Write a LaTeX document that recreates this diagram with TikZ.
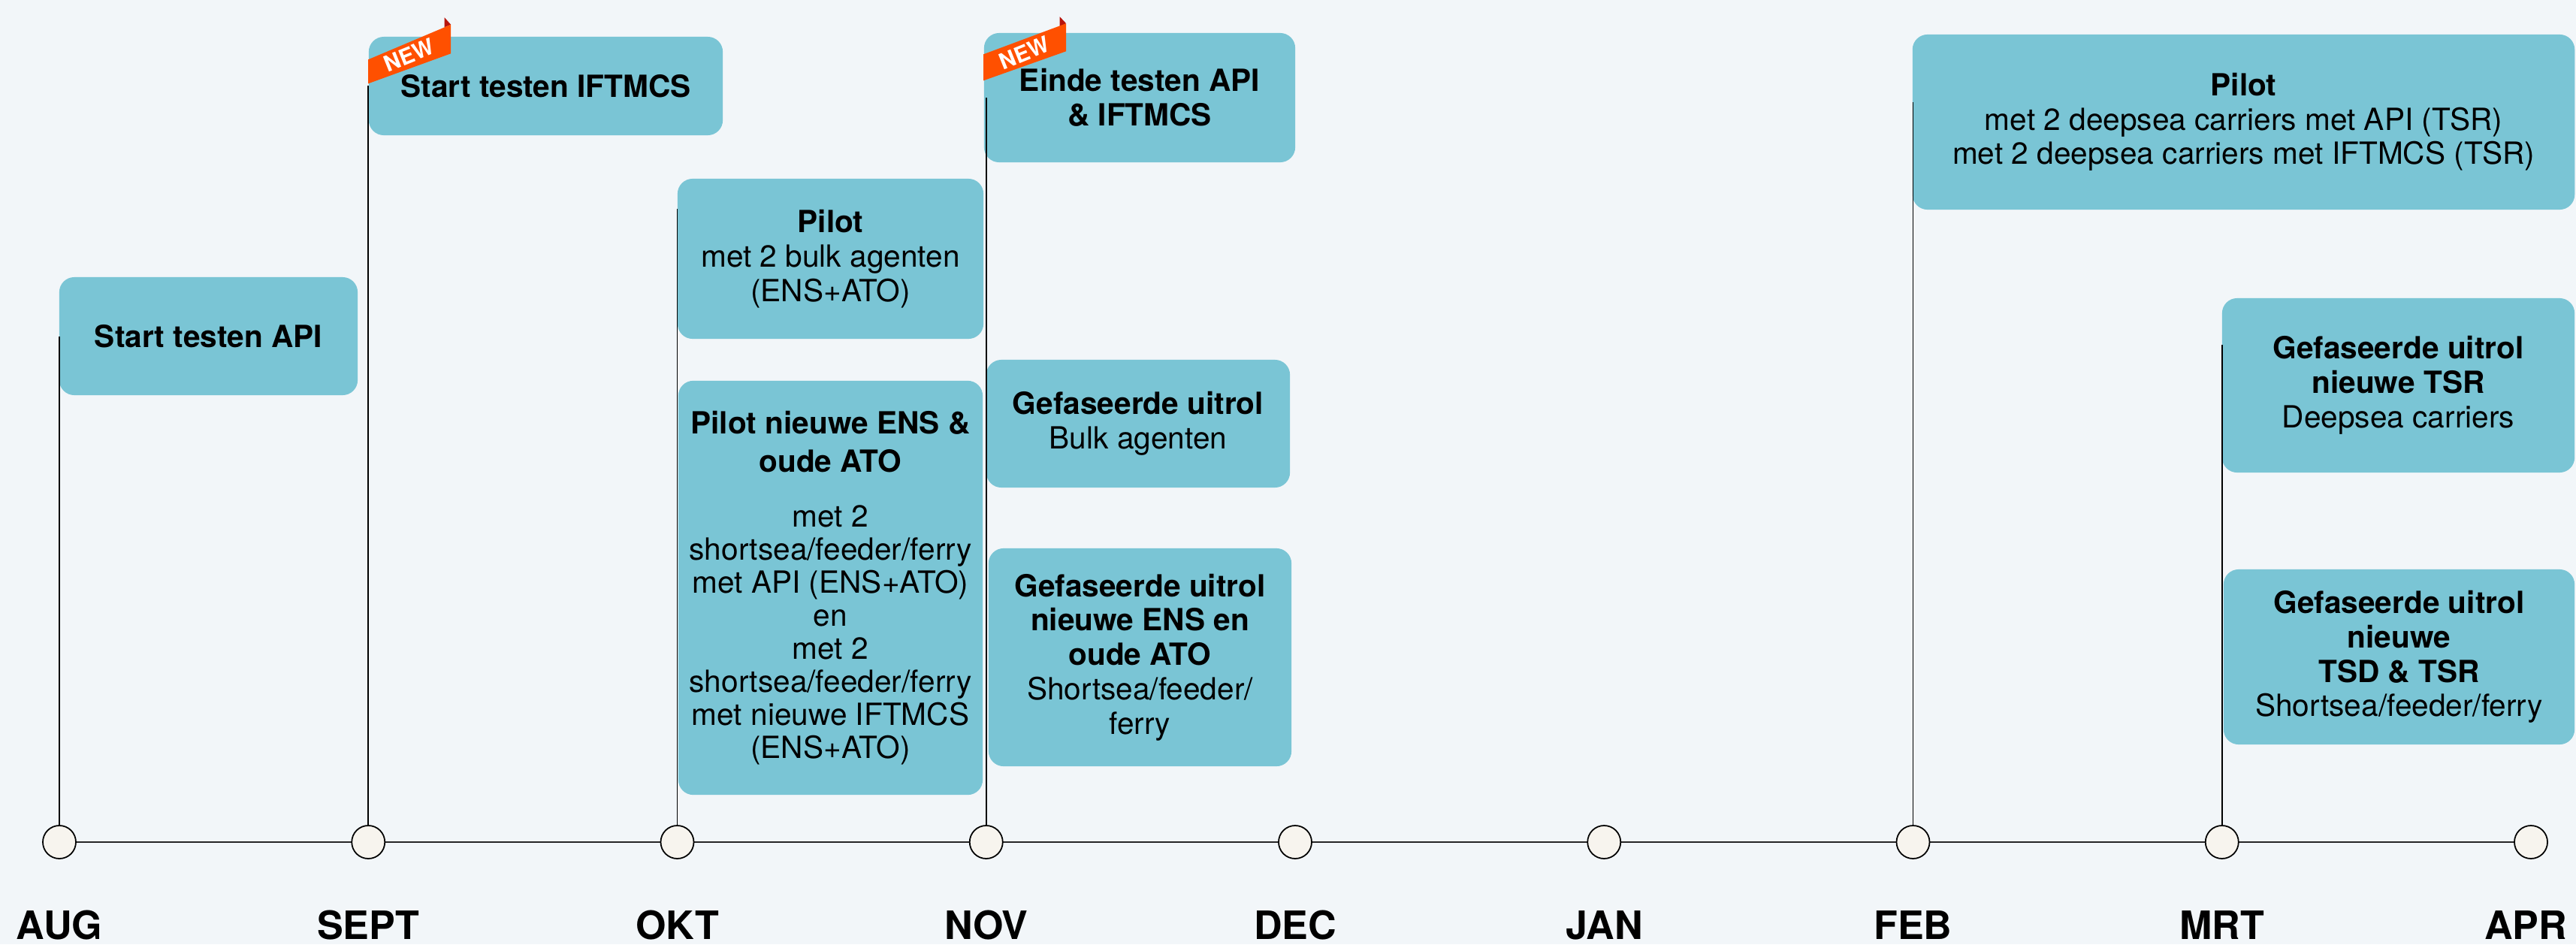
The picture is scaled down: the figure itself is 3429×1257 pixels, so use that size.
\documentclass[tikz,border=0pt]{standalone}
\usepackage{fontspec}
\setmainfont{TeX Gyre Heros}
\usetikzlibrary{calc}
\definecolor{bgc}{HTML}{F2F6F9}
\definecolor{boxc}{HTML}{7AC5D5}
\definecolor{ribc}{HTML}{FF5000}
\definecolor{foldc}{HTML}{B8140C}
\definecolor{dotc}{HTML}{F7F4EE}
\newcommand\evfont{\fontsize{11.55pt}{13pt}\selectfont}
\newcommand\evfonttight{\fontsize{11.55pt}{12.5pt}\selectfont}
\newcommand\mfont{\fontsize{14.8pt}{16pt}\selectfont\bfseries}
\newcommand\ribfont{\fontsize{8.4pt}{9pt}\selectfont\bfseries}
\tikzset{
  evbox/.style={fill=boxc, rounded corners=0.2cm, inner sep=0pt, align=center, font=\evfont},
  monthdot/.style={circle, draw=black, line width=0.5pt, fill=dotc, minimum size=0.44cm, inner sep=0pt},
  stemline/.style={line width=0.45pt, draw=black},
  axisline/.style={line width=0.55pt, draw=black!85},
  monthlbl/.style={font=\mfont, anchor=base, inner sep=0pt},
  ribbon/.style={fill=ribc},
  ribfold/.style={fill=foldc},
  newtext/.style={font=\ribfont, text=white, rotate=22, inner sep=0pt}
}
\begin{document}
\begin{tikzpicture}[x=0.01cm, y=-0.01cm]
\fill[bgc] (0,0) rectangle (3429,1257);
\useasboundingbox (0,0) rectangle (3429,1257);

% month dots (positions)
\path (79,1121) coordinate (paug)
      (490.25,1121) coordinate (psept)
      (901.5,1121) coordinate (pokt)
      (1312.75,1121) coordinate (pnov)
      (1724,1121) coordinate (pdec)
      (2135.25,1121) coordinate (pjan)
      (2546.5,1121) coordinate (pfeb)
      (2957.75,1121) coordinate (pmrt)
      (3369,1121) coordinate (papr);

% axis
\draw[axisline] (paug) -- (papr);

% event boxes
\node[evbox, minimum width=3.97cm, minimum height=1.57cm] (apiBox) at (277.5,447.5) {\textbf{Start testen API}};
\node[evbox, minimum width=4.71cm, minimum height=1.31cm] (iftBox) at (726.5,114.5) {\textbf{Start testen IFTMCS}};
\node[evbox, minimum width=4.07cm, minimum height=2.13cm] (pilotBulk) at (1105.5,344.5) {\textbf{Pilot}\\met 2 bulk agenten\\(ENS+ATO)};
\node[evbox, font=\evfonttight, minimum width=4.05cm, minimum height=5.51cm] (pilotEns) at (1105.5,782.5)
  {\textbf{Pilot nieuwe ENS \&}\\[2pt]\textbf{oude ATO}\\[8.2pt]met 2\\shortsea/feeder/ferry\\met API (ENS+ATO)\\en\\met 2\\shortsea/feeder/ferry\\met nieuwe IFTMCS\\(ENS+ATO)};
\node[evbox, minimum width=4.14cm, minimum height=1.72cm] (eindeBox) at (1517,130) {\textbf{Einde testen API}\\\textbf{\& IFTMCS}};
\node[evbox, minimum width=4.04cm, minimum height=1.70cm] (bulkBox) at (1515,564) {\textbf{Gefaseerde uitrol}\\Bulk agenten};
\node[evbox, minimum width=4.03cm, minimum height=2.90cm] (ensBox) at (1517.5,875) {\textbf{Gefaseerde uitrol}\\\textbf{nieuwe ENS en}\\\textbf{oude ATO}\\Shortsea/feeder/\\ferry};
\node[evbox, minimum width=8.81cm, minimum height=2.33cm] (febBox) at (2986.5,162.5) {\textbf{Pilot}\\met 2 deepsea carriers met API (TSR)\\met 2 deepsea carriers met IFTMCS (TSR)};
\node[evbox, minimum width=4.69cm, minimum height=2.32cm] (tsrBox) at (3192.5,513) {\textbf{Gefaseerde uitrol}\\\textbf{nieuwe TSR}\\Deepsea carriers};
\node[evbox, minimum width=4.67cm, minimum height=2.33cm] (tsdBox) at (3193.5,874.5) {\textbf{Gefaseerde uitrol}\\\textbf{nieuwe}\\\textbf{TSD \& TSR}\\Shortsea/feeder/ferry};

% NEW ribbons
\begin{scope}[shift={(iftBox.north west)}]
  \fill[ribfold] (101.5,-25) -- (110,-15.5) -- (101.5,-12) -- cycle;
  \fill[ribbon] (0,63) -- (0,31) -- (110,-15.5) -- (110,23) -- cycle;
  \node[newtext] (newA) at (54,25) {NEW};
\end{scope}
\begin{scope}[shift={(eindeBox.north west)}]
  \fill[ribfold] (101.5,-21) -- (110,-12) -- (101.5,-8) -- cycle;
  \fill[ribbon] (0,64) -- (0,29) -- (110,-12) -- (110,25) -- cycle;
  \node[newtext] (newB) at (54,27) {NEW};
\end{scope}

% stem end points
\coordinate (taug) at (79,448);
\coordinate (tsept) at (490.25,114);
\coordinate (tokt) at (901.5,278);
\coordinate (tnov) at (1312.75,130);
\coordinate (tfeb) at (2546.5,136);
\coordinate (tmrt) at (2957.75,459);

% month dots
\node[monthdot] (caug) at (paug) {};
\node[monthdot] (csept) at (psept) {};
\node[monthdot] (cokt) at (pokt) {};
\node[monthdot] (cnov) at (pnov) {};
\node[monthdot] (cdec) at (pdec) {};
\node[monthdot] (cjan) at (pjan) {};
\node[monthdot] (cfeb) at (pfeb) {};
\node[monthdot] (cmrt) at (pmrt) {};
\node[monthdot] (capr) at (papr) {};

% stems
\draw[stemline] (caug.north) -- (taug);
\draw[stemline] (csept.north) -- (tsept);
\draw[stemline] (cokt.north) -- (tokt);
\draw[stemline] (cnov.north) -- (tnov);
\draw[stemline] (cfeb.north) -- (tfeb);
\draw[stemline] (cmrt.north) -- (tmrt);

% month labels
\node[monthlbl] (laug) at (79,1250) {AUG};
\node[monthlbl] (lsept) at (490.25,1250) {SEPT};
\node[monthlbl] (lokt) at (901.5,1250) {OKT};
\node[monthlbl] (lnov) at (1312.75,1250) {NOV};
\node[monthlbl] (ldec) at (1724,1250) {DEC};
\node[monthlbl] (ljan) at (2135.25,1250) {JAN};
\node[monthlbl] (lfeb) at (2546.5,1250) {FEB};
\node[monthlbl] (lmrt) at (2957.75,1250) {MRT};
\node[monthlbl] (lapr) at (3362,1250) {APR};
\end{tikzpicture}
\end{document}
